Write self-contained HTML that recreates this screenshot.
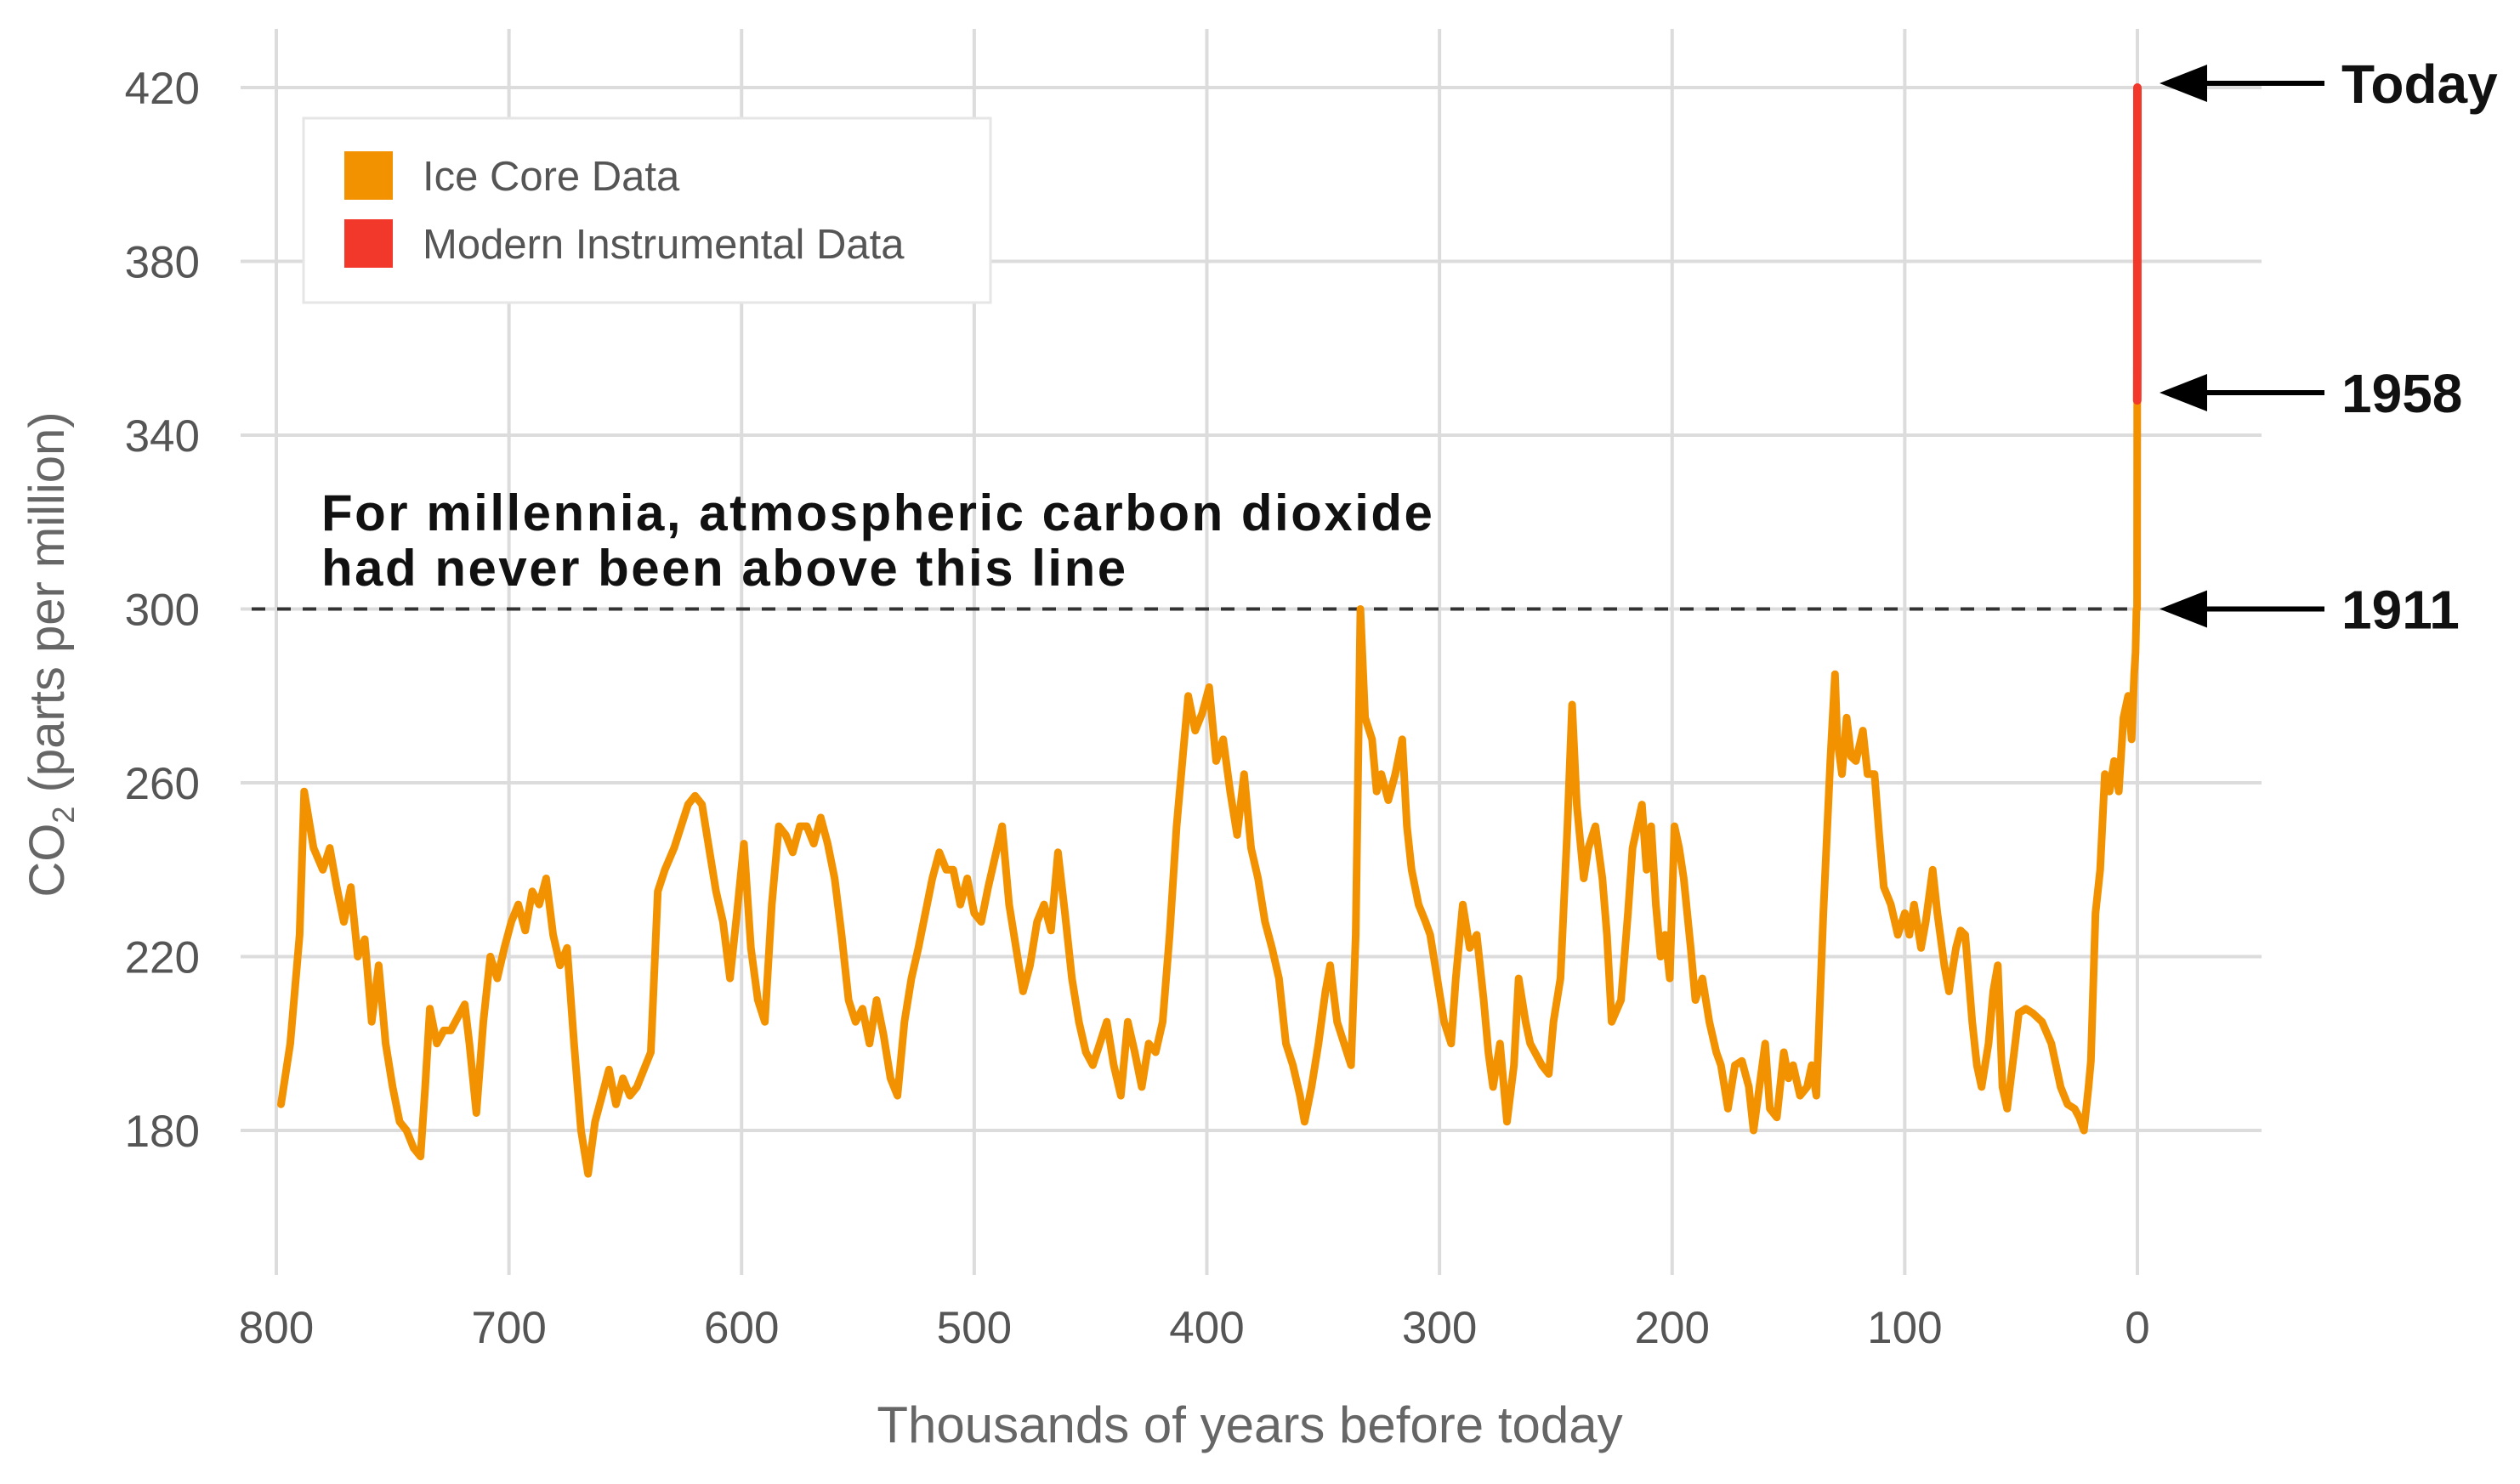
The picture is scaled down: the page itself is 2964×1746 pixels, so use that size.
<!DOCTYPE html>
<html><head><meta charset="utf-8"><style>
html,body{margin:0;padding:0;background:#fff;}
svg{display:block;font-family:"Liberation Sans",Arial,sans-serif;}
</style></head><body>
<svg id="chart" width="2964" height="1746" viewBox="0 0 2964 1746" xmlns="http://www.w3.org/2000/svg">
<rect width="2964" height="1746" fill="#fff"/>
<g id="grid"></g>
<g id="yticks"></g>
<g id="xticks"></g>
<line id="thresh" stroke="#333" stroke-width="4" stroke-dasharray="16 14"/>
<g id="series"></g>
<text transform="translate(75,770) rotate(-90)" text-anchor="middle" font-size="58" fill="#666">CO<tspan font-size="36" dy="12">2</tspan><tspan dy="-12"> (parts per million)</tspan></text>
<text x="1470" y="1697" text-anchor="middle" font-size="60" fill="#666">Thousands of years before today</text>
<g>
<rect x="357" y="139" width="808" height="217" fill="#fff" stroke="#e6e6e6" stroke-width="3"/>
<rect x="405" y="178" width="57" height="57" fill="#F39200"/>
<text x="497" y="224" font-size="49" fill="#555">Ice Core Data</text>
<rect x="405" y="258" width="57" height="57" fill="#F2382A"/>
<text x="497" y="304" font-size="49" fill="#555">Modern Instrumental Data</text>
</g>
<g font-size="60" font-weight="bold" fill="#111" letter-spacing="2.5">
<text x="378" y="624">For millennia, atmospheric carbon dioxide</text>
<text x="378" y="689">had never been above this line</text>
</g>
<g id="arrows"></g>
</svg>
<script>
const yTicks = [180, 220, 260, 300, 340, 380, 420];
const xTicks = [800, 700, 600, 500, 400, 300, 200, 100, 0];
const xLabels = ["800","700","600","500","400","300","200","100","0"];
const iceAge = [
798,794,790,788,784,780,777,774,771,768,
765,762,759,756,753,750,747,744,741,738,
736,734,731,728,725,722,719,717,714,711,
708,705,702,699,696,693,690,687,684,681,
678,675,672,669,666,663,660,657,654,651,
648,645,642,639,636,633,629,626,623,620,
617,614,611,608,605,602,599,596,593,590,
587,584,581,578,575,572,569,566,563,560,
557,554,551,548,545,542,539,536,533,530,
527,524,521,518,515,512,509,506,503,500,
497,494,491,488,485,482,479,476,473,470,
467,464,461,458,455,452,449,446,443,440,
437,434,431,428,425,422,419,416,413,410,
408,405,402,399,396,393,390,387,384,381,
378,375,372,369,366,363,360,358,355,352,
349,347,344,341,338,336,334,332,329,327,
325,322,319,316,314,312,309,306,304,301,
298,295,293,290,287,284,281,279,277,274,
271,268,266,263,261,259,256,253,251,248,
245,243,241,238,236,233,230,228,226,222,
219,217,215,213,211,209,207,205,203,201,
199,197,195,192,190,187,184,181,179,176,
173,170,167,165,163,160,158,155,152,150,
148,145,142,140,138,135,132,130,129,127,
125,123,121,118,116,113,111,109,106,103,
100,98,96,93,91,88,86,83,81,78,
76,74,71,69,67,64,62,60,58,56,
53,51,48,45,41,37,33,30,27,25,
23,21,20,18,16,14,12,10,8,6,
4,2.5,1.4,0.8,0.4,0.15,0.064];
const icePpm = [
186,200,225,258,245,240,245,236,228,236,
220,224,205,218,200,190,182,180,176,174,
190,208,200,203,203,206,209,200,184,205,
220,215,222,228,232,226,235,232,238,225,
218,222,200,180,170,182,188,194,186,192,
188,190,194,198,235,240,245,250,255,257,
255,245,235,228,215,230,246,222,210,205,
232,250,248,244,250,250,246,252,246,238,
225,210,205,208,200,210,202,192,188,205,
215,222,230,238,244,240,240,232,238,230,
228,236,243,250,232,222,212,218,228,232,
226,244,230,215,205,198,195,200,205,195,
188,205,198,190,200,198,205,225,250,268,
280,272,276,282,265,270,258,248,262,245,
238,228,222,215,200,195,188,182,190,200,
212,218,205,200,195,225,300,275,270,258,
262,256,262,270,250,240,232,228,225,215,
205,200,215,232,222,225,210,198,190,200,
182,195,215,205,200,198,195,193,205,215,
250,278,255,238,245,250,238,225,205,210,
230,245,250,255,240,250,232,220,225,215,
250,245,238,222,210,215,205,198,195,185,
195,196,190,180,188,200,185,183,198,192,
195,188,190,195,188,230,265,285,270,262,
275,266,265,272,262,262,248,236,232,225,
230,225,232,222,228,240,230,218,212,222,
226,225,205,195,190,200,212,218,190,185,
198,207,208,207,205,200,190,186,185,183,
180,190,196,230,240,262,258,265,258,275,
280,270,285,290,300,300,348];
const modAge = [0.064,0.05,0.04,0.03,0.02,0.01,0.0];
const modPpm = [348,356,368,382,396,408,420];

const NS = "http://www.w3.org/2000/svg";
const X0 = 325, X1 = 2514, Y420 = 103, Y180 = 1330;
function xs(a){ return X0 + (800 - a) * (X1 - X0) / 800; }
function ys(v){ return Y420 + (420 - v) * (Y180 - Y420) / 240; }
function mk(tag, attrs, parent){ const e = document.createElementNS(NS, tag); for (const k in attrs) e.setAttribute(k, attrs[k]); parent.appendChild(e); return e; }

const grid = document.getElementById('grid');
xTicks.forEach(t => {
  const l = mk('line', {x1: xs(t), x2: xs(t), y1: 34, y2: 1500, stroke: '#dcdcdc', 'stroke-width': 4}, grid);
  
  
});
yTicks.forEach(t => {
  const l = mk('line', {x1: 283, x2: 2660, y1: ys(t), y2: ys(t), stroke: '#dcdcdc', 'stroke-width': 4}, grid);
  
  
});
const yt = document.getElementById('yticks');
yTicks.forEach(t => {
  const e = mk('text', {x: 235, y: ys(t) + 19, 'text-anchor': 'end', 'font-size': 53, fill: '#555'}, yt);
  e.textContent = String(t);
  
  
});
const xt = document.getElementById('xticks');
xTicks.forEach((t, i) => {
  const e = mk('text', {x: xs(t), y: 1580, 'text-anchor': 'middle', 'font-size': 53, fill: '#555'}, xt);
  e.textContent = xLabels[i];
  
  
});
const th = document.getElementById('thresh');
th.setAttribute('x1', 296); th.setAttribute('x2', xs(0) - 8);
th.setAttribute('y1', ys(300)); th.setAttribute('y2', ys(300));

const ser = document.getElementById('series');
const iceD = iceAge.map((a, i) => (i ? 'L' : 'M') + xs(a).toFixed(1) + ' ' + ys(icePpm[i]).toFixed(1)).join(' ');
const ice = mk('path', {d: iceD, fill: 'none', stroke: '#F39200', 'stroke-width': 9, 'stroke-linejoin': 'round', 'stroke-linecap': 'round'}, ser);


const modD = modAge.map((a, i) => (i ? 'L' : 'M') + xs(a).toFixed(1) + ' ' + ys(modPpm[i]).toFixed(1)).join(' ');
const mod = mk('path', {d: modD, fill: 'none', stroke: '#F2382A', 'stroke-width': 10, 'stroke-linejoin': 'round', 'stroke-linecap': 'round'}, ser);



const arrowLabels = ["Today", "1958", "1911"];
const arrowPpm = [421, 349, 300];
const ar = document.getElementById('arrows');
arrowLabels.forEach((lab, i) => {
  const y = (i === 0) ? 98 : ys(arrowPpm[i]) - (i === 1 ? 4 : 0);
  const g = mk('g', {}, ar);
  
  
  mk('line', {x1: 2580, x2: 2734, y1: y, y2: y, stroke: '#000', 'stroke-width': 6}, g);
  mk('polygon', {points: `2540,${y} 2596,${y - 22} 2596,${y + 22}`, fill: '#000'}, g);
  const t = mk('text', {x: 2754, y: y + 23, 'font-size': 64, 'font-weight': 'bold', fill: '#111'}, g);
  t.textContent = lab;
});
</script>
</body></html>
